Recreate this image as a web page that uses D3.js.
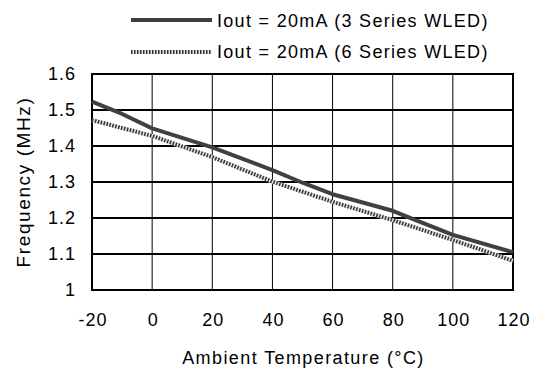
<!DOCTYPE html>
<html><head><meta charset="utf-8">
<script src="https://cdn.jsdelivr.net/npm/d3@7"></script>
<style>body{margin:0;background:#fff}text{font-family:"Liberation Sans",Arial,sans-serif;fill:#000}</style>
</head><body><svg id="c" width="537" height="374"></svg>
<script>
const xTicks = [-20, 0, 20, 40, 60, 80, 100, 120];
const xTickLabels = ["-20", "0", "20", "40", "60", "80", "100", "120"];
const yTicks = [1, 1.1, 1.2, 1.3, 1.4, 1.5, 1.6];
const yTickLabels = ["1", "1.1", "1.2", "1.3", "1.4", "1.5", "1.6"];
const seriesNames = ["Iout = 20mA (3 Series WLED)", "Iout = 20mA (6 Series WLED)"];
const temp3 = [-20, -11, 0, 20, 40, 50, 60, 80, 87, 100, 120];
const freq3 = [1.523, 1.493, 1.449, 1.396, 1.333, 1.298, 1.266, 1.220, 1.196, 1.153, 1.105];
const temp6 = [-20, 0, 20, 40, 60, 80, 100, 120];
const freq6 = [1.472, 1.428, 1.369, 1.301, 1.245, 1.194, 1.139, 1.081];

const svg = d3.select("#c");
const L = 92, R = 513, T = 74, B = 290;
const FONT = "Liberation Sans, Arial, sans-serif";
const x = d3.scaleLinear().domain([-20, 120]).range([L, R]);
const y = d3.scaleLinear().domain([1, 1.6]).range([B, T]);

// grid
svg.append("g").selectAll("line").data(xTicks.slice(1, -1)).join("line")
  .attr("x1", d => x(d)).attr("x2", d => x(d)).attr("y1", T).attr("y2", B)
  .attr("stroke", "#000").attr("stroke-width", 1);
svg.append("g").selectAll("line").data(yTicks.slice(1, -1)).join("line")
  .attr("x1", L).attr("x2", R).attr("y1", d => y(d)).attr("y2", d => y(d))
  .attr("stroke", "#000").attr("stroke-width", 2);
svg.append("rect").attr("x", L).attr("y", T).attr("width", R - L).attr("height", B - T)
  .attr("fill", "none").attr("stroke", "#000").attr("stroke-width", 2);

// axes labels via d3 axes
const xa = svg.append("g").attr("transform", `translate(0,${B})`)
  .call(d3.axisBottom(x).tickValues(xTicks).tickSize(0).tickPadding(23).tickFormat((d, i) => xTickLabels[i]));
xa.select(".domain").remove();
xa.selectAll("text").attr("font-size", 18).attr("font-family", FONT).attr("fill", "#000")
  .attr("letter-spacing", 1).attr("dx", 0.5);
const ya = svg.append("g").attr("transform", `translate(${L},0)`)
  .call(d3.axisLeft(y).tickValues(yTicks).tickSize(0).tickPadding(16).tickFormat((d, i) => yTickLabels[i]));
ya.select(".domain").remove();
ya.selectAll("text").attr("font-size", 18).attr("font-family", FONT).attr("fill", "#000")
  .attr("letter-spacing", 1);

svg.append("text").attr("x", (L + R) / 2 + 1).attr("y", 364).attr("text-anchor", "middle")
  .attr("font-size", 18).attr("letter-spacing", 1.4).text("Ambient Temperature (°C)");
svg.append("text").attr("transform", `translate(30,${(T + B) / 2}) rotate(-90)`).attr("text-anchor", "middle")
  .attr("font-size", 19).attr("letter-spacing", 1.6).text("Frequency (MHz)");

const line = d3.line().x(d => x(d[0])).y(d => y(d[1]));
const d3s = temp3.map((t, i) => [t, freq3[i]]);
const d6s = temp6.map((t, i) => [t, freq6[i]]);

function dotted(sel, d) {
  sel.append("path").attr("d", d).attr("fill", "none").attr("stroke", "#e4e4e4").attr("stroke-width", 4);
  sel.append("path").attr("d", d).attr("fill", "none").attr("stroke", "#333").attr("stroke-width", 4).attr("stroke-dasharray", "1.5,1.5");
}
dotted(svg.append("g"), line(d6s));
svg.append("path").attr("d", line(d3s)).attr("fill", "none").attr("stroke", "#404040").attr("stroke-width", 4).attr("stroke-linejoin", "round");

// legend
const lg = svg.append("g");
lg.append("line").attr("x1", 131).attr("x2", 212).attr("y1", 20).attr("y2", 20).attr("stroke", "#404040").attr("stroke-width", 4);
dotted(lg.append("g"), "M131,52L212,52");
lg.selectAll("text").data(seriesNames).join("text")
  .attr("x", 217).attr("y", (d, i) => 27 + i * 31).attr("font-size", 18).attr("letter-spacing", 1.3).text(d => d);
</script></body></html>
